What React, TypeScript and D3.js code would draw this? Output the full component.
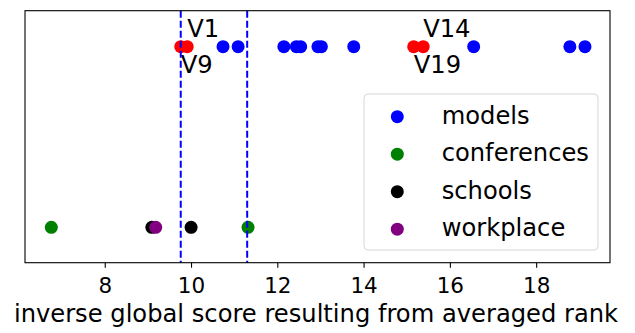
import React from "react";
import * as d3 from "d3";

const models = [10.73, 11.08, 12.14, 12.43, 12.53, 12.93, 13.01, 13.76, 16.54, 18.77, 19.12];
const highlighted = [9.75, 9.9, 15.15, 15.37];
const highlightLabels = ["V9", "V1", "V19", "V14"];
const labelAbove = [false, true, false, true];
const conferences = [6.75, 11.31];
const schools = [9.08, 9.99];
const workplace = [9.17];
const vlines = [9.75, 11.29];
const xTicks = [8, 10, 12, 14, 16, 18];
const legendItems = ["models", "conferences", "schools", "workplace"];
const legendColors = ["blue", "green", "black", "purple"];

const W = 635, H = 333;
const L = 25, R = 610, T = 10.7, B = 262.7;
const FONT = "DejaVu Sans";

export default function App() {
  const x = d3.scaleLinear().domain([6.14, 19.7]).range([L, R]);
  const y = d3.scaleLinear().domain([-0.196, 1.199]).range([B, T]);
  const yTop = y(1);
  const yBot = y(0);
  const r = 6.5;
  const fs = 24.2;
  const tfs = 21.5;
  const legX = 364, legY = 94, legW = 234, legH = 156;
  return (
    <svg width={W} height={H} style={{ position: "absolute", left: 0, top: 0, background: "white" }} fontFamily={FONT}>
      <rect x={0} y={0} width={W} height={H} fill="white" />
      {models.map((v, i) => <circle key={"m" + i} cx={x(v)} cy={yTop} r={r} fill="blue" />)}
      {highlighted.map((v, i) => <circle key={"h" + i} cx={x(v)} cy={yTop} r={r} fill="red" />)}
      {conferences.map((v, i) => <circle key={"c" + i} cx={x(v)} cy={yBot} r={r} fill="green" />)}
      {schools.map((v, i) => <circle key={"s" + i} cx={x(v)} cy={yBot} r={r} fill="black" />)}
      {workplace.map((v, i) => <circle key={"w" + i} cx={x(v)} cy={yBot} r={r} fill="purple" />)}
      {highlighted.map((v, i) => (
        <text key={"t" + i} x={x(v)} y={labelAbove[i] ? yTop - 9.5 : yTop + 26.5} fontSize={fs} fill="black">{highlightLabels[i]}</text>
      ))}
      {vlines.map((v, i) => (
        <line key={"v" + i} x1={x(v)} x2={x(v)} y1={T} y2={B} stroke="blue" strokeWidth={2} strokeDasharray="7,3" />
      ))}
      <rect x={legX} y={legY} width={legW} height={legH} rx={4} fill="white" fillOpacity={0.8} stroke="#d6d6d6" strokeWidth={1} />
      {legendItems.map((s, i) => (
        <g key={"l" + i}>
          <circle cx={397.3} cy={116.7 + i * 37.5} r={r} fill={legendColors[i]} />
          <text x={441.7} y={116.7 + i * 37.5 + 7} fontSize={fs} fill="black">{s}</text>
        </g>
      ))}
      <rect x={L} y={T} width={R - L} height={B - T} fill="none" stroke="black" strokeWidth={1.1} />
      {xTicks.map((t) => (
        <g key={"x" + t}>
          <line x1={x(t)} x2={x(t)} y1={B} y2={B + 5} stroke="black" strokeWidth={1.1} />
          <text x={x(t)} y={293.3} fontSize={tfs} textAnchor="middle" fill="black">{t}</text>
        </g>
      ))}
      <text x={316} y={322} fontSize={fs} textAnchor="middle" fill="black">inverse global score resulting from averaged rank</text>
    </svg>
  );
}
